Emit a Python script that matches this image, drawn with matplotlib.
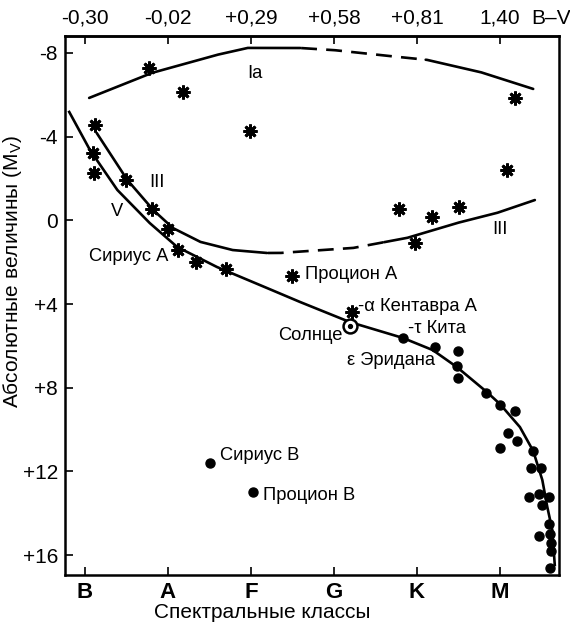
import numpy as np
import matplotlib
matplotlib.use("Agg")
import matplotlib.pyplot as plt
from matplotlib import font_manager

# fonts: narrow grotesque for most text if available
names = {f.name for f in font_manager.fontManager.ttflist}
NARROW = "Liberation Sans Narrow" if "Liberation Sans Narrow" in names else "Liberation Sans"
plt.rcParams["font.family"] = [NARROW, "DejaVu Sans"]

# axes labelling
spec_classes = ["B", "A", "F", "G", "K", "M"]
bv_labels = ["-0,30", "-0,02", "+0,29", "+0,58", "+0,81", "1,40"]
mag_ticks = [-8, -4, 0, 4, 8, 12, 16]
mag_labels = ["-8", "-4", "0", "+4", "+8", "+12", "+16"]

# sequences (class position, absolute magnitude)
ia_x = [0.05, 0.80, 1.58, 1.96, 2.58, 2.99, 3.55, 4.12, 4.76, 5.40]
ia_y = [-5.85, -7.04, -7.90, -8.24, -8.24, -8.14, -7.90, -7.67, -7.09, -6.28]
ia_dash = (2.6, 4.1)

iii_x = [0.14, 0.51, 0.82, 1.06, 1.39, 1.78, 2.19, 2.35, 3.23, 3.88, 4.48, 4.96, 5.42]
iii_y = [-4.18, -1.93, -0.50, 0.37, 1.03, 1.42, 1.56, 1.56, 1.32, 0.84, 0.13, -0.35, -0.97]
iii_dash = (2.2, 3.6)

v_x = [-0.19, 0.06, 0.39, 0.78, 1.11, 1.59, 2.19, 2.59, 3.19, 3.83, 4.19, 4.48,
       4.84, 5.00, 5.24, 5.40, 5.51, 5.57, 5.63, 5.66]
v_y = [-5.18, -3.36, -1.45, 0.13, 1.27, 2.23, 3.23, 3.90, 4.86, 5.62, 6.20, 7.01,
       8.20, 8.78, 9.88, 11.02, 12.41, 13.70, 14.80, 16.47]

# stars drawn as asterisks
ast_x = [0.77, 1.18, 1.99, 5.18, 5.08,
         0.12, 0.10, 0.11, 0.49, 0.81, 1.00, 1.12, 1.34, 1.70, 2.49, 3.22,
         3.78, 4.18, 4.51, 3.98]
ast_y = [-7.28, -6.14, -4.27, -5.85, -2.41,
         -4.56, -3.22, -2.26, -1.93, -0.54, 0.41, 1.42, 1.99, 2.33, 2.66, 4.38,
         -0.54, -0.16, -0.64, 1.08]

# stars drawn as dots (late K/M dwarfs and white dwarfs)
dot_x = [3.83, 4.22, 4.49, 4.48, 4.49, 4.83, 5.00, 5.18, 5.10, 5.20, 5.00, 5.40,
         5.37, 5.49, 5.35, 5.47, 5.59, 5.51, 5.59, 5.47, 5.60, 5.61, 5.61, 5.60,
         1.51, 2.02]
dot_y = [5.62, 6.05, 6.24, 6.96, 7.54, 8.25, 8.83, 9.11, 10.16, 10.55, 10.88, 11.02,
         11.84, 11.84, 13.22, 13.08, 13.22, 13.61, 14.51, 15.09, 14.99, 15.42, 15.80, 16.62,
         11.60, 12.98]

sun_x, sun_y = 3.19, 5.05

fig = plt.figure(figsize=(5.7, 6.24), dpi=100)
ax = fig.add_axes([65 / 570, 1 - 575 / 624, 494 / 570, 539 / 624])

LW = 1.9


def draw_curve(xs, ys, dash):
    gx = np.linspace(xs[0], xs[-1], 600)
    gy = np.interp(gx, xs, ys)
    a, b = dash
    left = gx <= a
    mid = (gx >= a) & (gx <= b)
    right = gx >= b
    ax.plot(gx[left], gy[left], color="black", lw=LW, solid_capstyle="round")
    ax.plot(gx[mid], gy[mid], color="black", lw=LW, dashes=(6, 3.5))
    ax.plot(gx[right], gy[right], color="black", lw=LW, solid_capstyle="round")


draw_curve(ia_x, ia_y, ia_dash)
draw_curve(iii_x, iii_y, iii_dash)
ax.plot(v_x, v_y, color="black", lw=LW)

ax.plot(ast_x, ast_y, linestyle="none", marker=(8, 2, 0), ms=10, mew=2.0,
        color="black")
ax.plot(dot_x, dot_y, linestyle="none", marker="o", ms=6.5, color="black")
ax.plot(sun_x, sun_y, marker="o", ms=10, mfc="white", mec="black", mew=1.8)
ax.plot(sun_x, sun_y, marker="o", ms=2.8, color="black")

fs = 13.2
ax.text(2.05, -7.04, "Ia", fontsize=fs, ha="center", va="center")
ax.text(0.87, -1.79, "III", fontsize=fs, ha="center", va="center")
ax.text(0.39, -0.40, "V", fontsize=fs, ha="center", va="center")
ax.text(5.00, 0.46, "III", fontsize=fs, ha="center", va="center")
ax.text(1.00, 1.75, "Сириус А", fontsize=fs, ha="right", va="center")
ax.text(2.65, 2.61, "Процион А", fontsize=fs, ha="left", va="center")
ax.text(3.29, 4.14, "-α Кентавра А", fontsize=fs, ha="left", va="center")
ax.text(3.10, 5.48, "Солнце", fontsize=fs, ha="right", va="center")
ax.text(3.89, 5.19, "-τ Кита", fontsize=fs, ha="left", va="center")
ax.text(3.16, 6.68, "ε Эридана", fontsize=fs, ha="left", va="center")
ax.text(1.63, 11.26, "Сириус В", fontsize=fs, ha="left", va="center")
ax.text(2.14, 13.13, "Процион В", fontsize=fs, ha="left", va="center")

ax.set_xlim(-0.241, 5.711)
ax.set_ylim(16.95, -8.81)

for s in ax.spines.values():
    s.set_linewidth(1.8)

ax.set_yticks(mag_ticks)
ax.set_yticklabels(mag_labels, fontsize=15)
ax.set_xticks(range(len(spec_classes)))
ax.set_xticklabels(spec_classes, fontsize=16, fontweight="bold")
ax.tick_params(direction="in", length=6, width=1.2, pad=5)

top = ax.secondary_xaxis("top")
top.set_xticks(range(len(bv_labels)))
top.set_xticklabels(bv_labels, fontsize=15)
top.tick_params(direction="in", length=6, width=1.2, pad=6)
top.spines["top"].set_linewidth(1.8)
fig.text(551 / 570, 1 - 18 / 624, "B–V", fontsize=15, ha="center", va="center")

ax.set_xlabel("Спектральные классы", fontsize=15, family="Liberation Sans")
ax.xaxis.set_label_coords(0.40, -0.052)
ax.set_ylabel("Абсолютные величины (M$_\\mathregular{V}$)", fontsize=15,
              family="Liberation Sans")
ax.yaxis.set_label_coords(-0.084, 0.564)

fig.savefig("out.png", dpi=100)
